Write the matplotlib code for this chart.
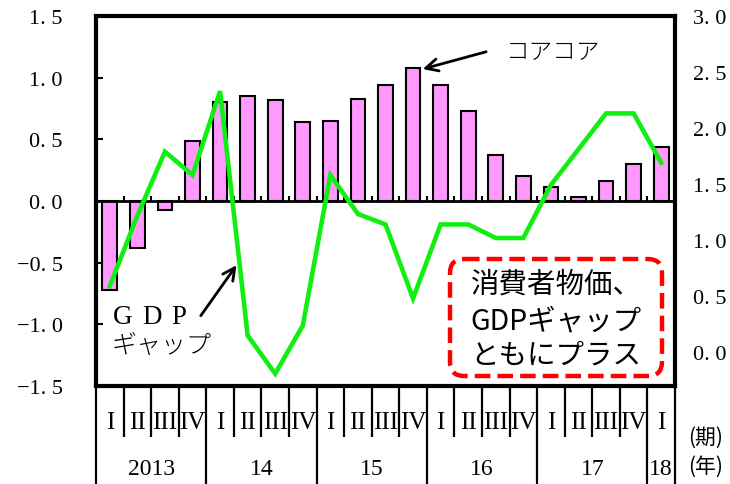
import numpy as np
import matplotlib
matplotlib.use("Agg")
import matplotlib.pyplot as plt
from matplotlib.patches import FancyBboxPatch

# ---- data ----
quarters = ["I", "II", "III", "IV"] * 5 + ["I"]
years = ["2013", "14", "15", "16", "17", "18"]
core_core = [-0.72, -0.38, -0.07, 0.49, 0.80, 0.85, 0.82, 0.64, 0.65, 0.83, 0.94,
             1.08, 0.94, 0.73, 0.37, 0.20, 0.11, 0.035, 0.16, 0.30, 0.44]
gdp_gap = [-0.69, -0.12, 0.40, 0.21, 0.89, -1.09, -1.40, -1.01, 0.21, -0.105, -0.19,
           -0.79, -0.19, -0.19, -0.30, -0.30, 0.13, 0.42, 0.71, 0.71, 0.31]
left_ticks = [-1.5, -1.0, -0.5, 0.0, 0.5, 1.0, 1.5]
right_ticks = [0.0, 0.5, 1.0, 1.5, 2.0, 2.5, 3.0]

SERIF = ["Liberation Serif", "DejaVu Serif"]
JP = ["Noto Sans CJK JP", "DejaVu Sans"]

def fmt(v):
    s = f"{abs(v):.1f}".replace(".", ". ")
    return ("\u2212" + s) if v < 0 else s

W, H = 730, 485
fig = plt.figure(figsize=(W / 100, H / 100), dpi=100)
ax = fig.add_axes([96 / W, 1 - 387 / H, 579 / W, 370 / H])

x = np.arange(len(core_core))
ax.bar(x, core_core, width=0.53, color="#FF99FF", edgecolor="black", linewidth=1.5, zorder=2)
ax.axhline(0, color="black", lw=2, zorder=3)
ax.vlines(np.arange(0.5, len(x) - 1, 1), 0, 0.04, color="black", lw=1.5, zorder=3)
ax.plot(x, gdp_gap, color="#11EE11", lw=3.3, zorder=4, solid_joinstyle="miter")

ax.set_xlim(-0.5, len(x) - 0.5)
ax.set_ylim(-1.5, 1.5)
ax.set_xticks([])
ax.set_yticks(left_ticks)
ax.set_yticklabels([fmt(v) for v in left_ticks], family=SERIF, fontsize=16)
ax.tick_params(axis="y", direction="in", length=5, width=1.5, pad=24)
for sp in ax.spines.values():
    sp.set_linewidth(3)

ax2 = ax.twinx()
ax2.set_ylim(-0.30, 3.0)
ax2.set_yticks(right_ticks)
ax2.set_yticklabels([fmt(v) for v in right_ticks], family=SERIF, fontsize=16)
ax2.tick_params(axis="y", length=0, pad=13)
for sp in ax2.spines.values():
    sp.set_visible(False)

# category axis below
tr = ax.get_xaxis_transform()
n = len(x)
for b in range(n + 1):
    xb = b - 0.5
    long_ = (b % 4 == 0) or b == n
    ax.plot([xb, xb], [0, -0.27 if long_ else -0.138], transform=tr, color="black",
            lw=1.6, clip_on=False, solid_capstyle="butt")
for i, q in enumerate(quarters):
    ax.text(i, -0.097, q, transform=tr, ha="center", va="center", family=SERIF, fontsize=18)
year_pos = [1.5, 5.5, 9.5, 13.5, 17.5, 20]
for yp, yl in zip(year_pos, years):
    ax.text(yp, -0.224, yl, transform=tr, ha="center", va="center", family=SERIF, fontsize=17)

fig.text(688 / W, 1 - 438 / H, "(期)", ha="left", va="center", family=JP, fontsize=15)
fig.text(688 / W, 1 - 467 / H, "(年)", ha="left", va="center", family=JP, fontsize=15)

# annotations
ax.annotate("", xy=(11.35, core_core[11] - 0.01), xytext=(13.65, 1.21),
            arrowprops=dict(arrowstyle="->", lw=2, color="black", mutation_scale=22,
                            shrinkA=0, shrinkB=0), zorder=6)
ax.annotate("", xy=(4.6, -0.52), xytext=(3.3, -0.93),
            arrowprops=dict(arrowstyle="->", lw=2, color="black", mutation_scale=22,
                            shrinkA=0, shrinkB=0), zorder=6)

ov = fig.add_axes([0, 0, 1, 1], zorder=10)
ov.set_xlim(0, W)
ov.set_ylim(H, 0)
ov.axis("off")
ov.patch.set_alpha(0)

ov.text(505, 53, "コアコア", ha="left", va="center", family=JP, fontsize=17, fontweight="light")
for lx, ch in zip([113, 142, 171], "GDP"):
    ov.text(lx, 318, ch, ha="left", va="center", family=SERIF, fontsize=19.5)
ov.text(112, 346, "ギャップ", ha="left", va="center", family=JP, fontsize=18, fontweight="light")

box = FancyBboxPatch((450, 260), 212, 117, boxstyle="round,pad=0,rounding_size=14",
                     facecolor="white", edgecolor="#FF0000", lw=3.2,
                     linestyle=(0, (3.5, 1.6)))
ov.add_patch(box)
for yy, t in zip([285, 321, 356], ["消費者物価、", "GDPギャップ", "ともにプラス"]):
    ov.text(556, yy, t, ha="center", va="center", family=JP, fontsize=20.5)

fig.savefig("out.png", dpi=100)
